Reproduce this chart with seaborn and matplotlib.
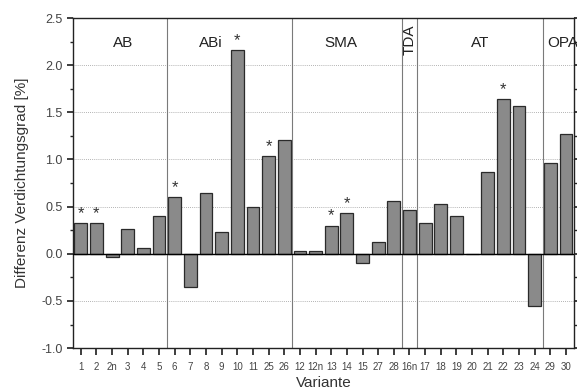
import matplotlib
matplotlib.use("Agg")
import matplotlib.pyplot as plt
import numpy as np
import pandas as pd
import seaborn as sns
from matplotlib.ticker import MultipleLocator

VARIANTS = ["1", "2", "2n", "3", "4", "5", "6", "7", "8", "9", "10", "11", "25", "26",
            "12", "12n", "13", "14", "15", "27", "28", "16n", "17", "18", "19", "20",
            "21", "22", "23", "24", "29", "30"]
VALUES = [0.33, 0.33, -0.035, 0.26, 0.06, 0.40, 0.60, -0.35, 0.64, 0.23, 2.16, 0.50, 1.04, 1.21,
          0.025, 0.025, 0.30, 0.43, -0.10, 0.12, 0.565, 0.465, 0.33, 0.53, 0.40, 0.0,
          0.865, 1.64, 1.57, -0.55, 0.96, 1.27]
STARRED = ["1", "2", "6", "10", "25", "13", "14", "22"]

GROUPS = ["AB", "ABi", "SMA", "TDA", "AT", "OPA"]
GROUP_FIRST = ["1", "6", "12", "16n", "17", "29"]

df = pd.DataFrame({"variante": VARIANTS, "diff": VALUES})

sns.set_theme(style="ticks")
plt.rcParams["font.family"] = ["Liberation Sans", "DejaVu Sans"]

fig = plt.figure(figsize=(5.77, 3.92), dpi=100)
ax = fig.add_axes([0.1265, 0.112, 0.868, 0.842])

sns.barplot(data=df, x="variante", y="diff", order=VARIANTS, color="#8a8a8a",
            saturation=1, edgecolor="#2a2a2a", linewidth=0.9, width=0.82, ax=ax)

ax.set_xlim(-0.5, len(VARIANTS) - 0.5)
ax.set_ylim(-1.0, 2.5)

for y in [-0.5, 0.5, 1.0, 1.5, 2.0]:
    ax.axhline(y, color="#9a9a9a", lw=0.6, ls=(0, (1, 1.5)), zorder=0)
ax.axhline(0, color="black", lw=1.0, zorder=3)

# group separators and labels
idx = {v: i for i, v in enumerate(VARIANTS)}
for first in GROUP_FIRST[1:]:
    ax.axvline(idx[first] - 0.5, color="#7a7a7a", lw=0.8, zorder=1)

label_pos = {"AB": 2.7, "ABi": 8.3, "SMA": 16.6, "AT": 25.5, "OPA": 30.8}
for g in GROUPS:
    if g == "TDA":
        ax.text(idx["16n"], 2.27, g, rotation=90, ha="center", va="center",
                fontsize=11, color="#222222")
    else:
        ax.text(label_pos[g], 2.24, g, ha="center", va="center", fontsize=11, color="#222222")

for v in STARRED:
    ax.text(idx[v], VALUES[idx[v]] + 0.02, "*", ha="center", va="bottom", fontsize=12,
            color="#333333")

ax.yaxis.set_major_locator(MultipleLocator(0.5))
ax.yaxis.set_minor_locator(MultipleLocator(0.25))
ax.yaxis.set_major_formatter(plt.FuncFormatter(lambda v, p: f"{v:.1f}"))
ax.tick_params(axis="y", which="both", right=True, labelsize=9, direction="out",
               labelcolor="#444444")
ax.tick_params(axis="y", which="major", length=4)
ax.tick_params(axis="y", which="minor", length=2.5)
ax.tick_params(axis="x", labelsize=7, length=5, pad=5, labelcolor="#444444")

for s in ax.spines.values():
    s.set_color("#222222")
    s.set_linewidth(1.0)

ax.set_xlabel("Variante", fontsize=11, color="#333333", labelpad=3)
ax.set_ylabel("Differenz Verdichtungsgrad [%]", fontsize=11, color="#333333", labelpad=9)

fig.savefig("out.png", dpi=100)
